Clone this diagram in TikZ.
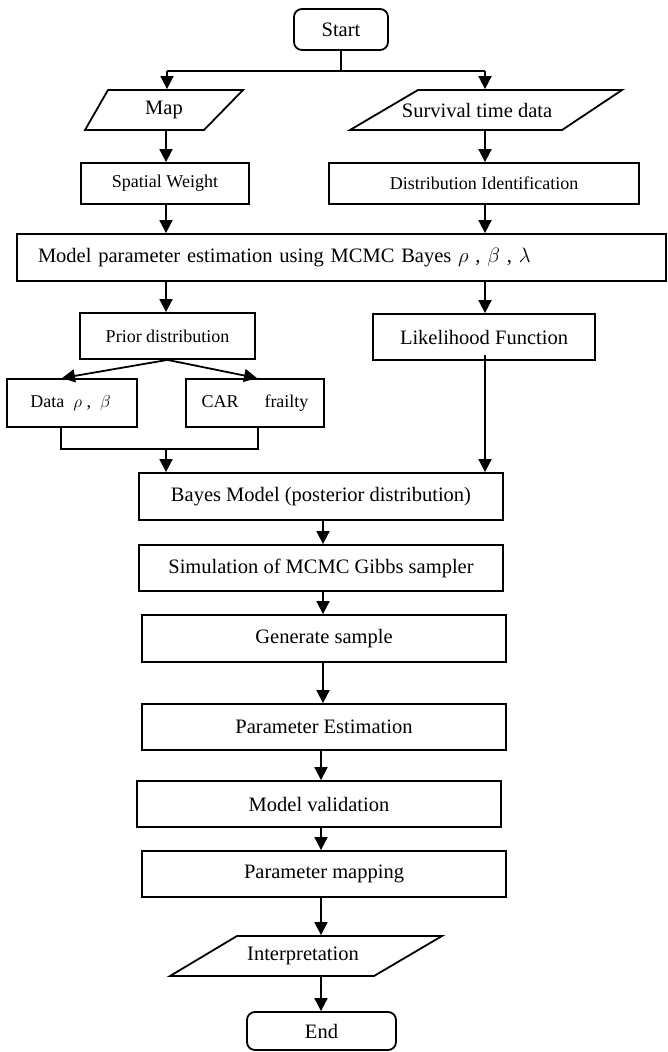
\documentclass[tikz,border=0pt]{standalone}
\usepackage{fontspec}
\setmainfont{Liberation Serif}
\usetikzlibrary{arrows.meta,calc}
\begin{document}
\begin{tikzpicture}[x=1pt,y=-1pt,
  line width=1.8pt,
  big/.style={font=\fontsize{20.5}{24}\selectfont},
  small/.style={font=\fontsize{18}{22}\selectfont},
  box/.style={draw, rectangle, inner sep=0pt, big},
  sbox/.style={draw, rectangle, inner sep=0pt, small},
  term/.style={draw, rectangle, rounded corners=8pt, inner sep=0pt, big},
  arr/.style={-{Triangle[length=13pt,width=13pt]}},
  ln/.style={-}]
\useasboundingbox (0,0) rectangle (667,1052);

% Start
\node[term, minimum width=94pt, minimum height=41pt] (start) at (341,29.5) {Start};

% Map parallelogram
\draw (85,130) -- (108,90) -- (243,90) -- (204,130) -- cycle;
\node[big, inner sep=0pt, minimum width=158pt, minimum height=40pt] (map) at (164,110) {Map};

% Survival parallelogram
\draw (350,130) -- (418,90) -- (622,90) -- (562,130) -- cycle;
\node[big, inner sep=0pt, minimum width=272pt, minimum height=40pt] (surv) at (486,110) {\hspace*{-18pt}Survival time data};

\node[sbox, minimum width=168pt, minimum height=41pt] (sw) at (165,183.5) {Spatial Weight};
\node[sbox, minimum width=310pt, minimum height=41pt] (di) at (484,183.5) {Distribution Identification};

\node[box, minimum width=649pt, minimum height=47pt, inner xsep=21pt, text width=607pt, align=left] (model) at (341.5,257.5)
  {Model parameter estimation using\ MCMC Bayes\ $\rho$\ ,\ $\beta$\ ,\ $\lambda$};

\node[sbox, minimum width=175pt, minimum height=46pt] (prior) at (167.5,336) {Prior distribution};
\node[box, minimum width=222pt, minimum height=46pt] (lik) at (484,337) {Likelihood Function};

\node[sbox, minimum width=130pt, minimum height=48pt] (data) at (72,403) {Data\ \ $\rho$\ ,\ \ $\beta$\,};
\node[sbox, minimum width=138pt, minimum height=48pt] (car) at (255,403) {CAR\hspace{26pt}frailty};

\node[box, minimum width=364pt, minimum height=47pt] (bayes) at (321,496.5) {Bayes Model (posterior distribution)};
\node[box, minimum width=364pt, minimum height=46pt] (sim) at (321,568) {Simulation of MCMC Gibbs sampler};
\node[box, minimum width=364pt, minimum height=47pt] (gen) at (324,638.5) {Generate sample};
\node[box, minimum width=364pt, minimum height=46pt] (pest) at (324,727) {Parameter Estimation};
\node[box, minimum width=364pt, minimum height=46pt] (mval) at (319,804) {Model validation};
\node[box, minimum width=364pt, minimum height=46pt] (pmap) at (324,874) {Parameter mapping};

% Interpretation parallelogram
\draw (170,976) -- (237,936) -- (442,936) -- (374,976) -- cycle;
\node[big, inner sep=0pt, minimum width=272pt, minimum height=40pt] (interp) at (306,956) {\hspace*{-6pt}Interpretation};

\node[term, minimum width=149pt, minimum height=38pt] (end) at (321.5,1031) {End};

% connectors
\coordinate (split) at (341,71);
\coordinate (sl) at (167,71);
\coordinate (sr) at (485,71);
\draw[ln] (start.south) -- (split);
\draw[ln] (sl) -- (sr);
\draw[arr] (sl) -- (sl |- map.north);
\draw[arr] (sr) -- (sr |- surv.north);

\draw[arr] ([xshift=2pt]map.south) -- ([xshift=2pt]map.south |- sw.north);
\draw[arr] ([xshift=-1pt]surv.south) -- ([xshift=-1pt]surv.south |- di.north);
\draw[arr] ([xshift=1pt]sw.south) -- ([xshift=1pt]sw.south |- model.north);
\draw[arr] ([xshift=1pt]di.south) -- ([xshift=1pt]di.south |- model.north);
\coordinate (ml) at (166,281);
\coordinate (mr) at (485,281);
\draw[arr] (ml) -- (ml |- prior.north);
\draw[arr] (mr) -- (mr |- lik.north);

\draw[arr] (prior.south) -- ([xshift=-10pt]data.north);
\draw[arr] (prior.south) -- ([xshift=2pt]car.north);

\coordinate (jl) at (61,449);
\coordinate (jr) at (258,449);
\coordinate (jm) at (166,449);
\draw[ln] ([xshift=-11pt]data.south) -- (jl) -- (jr) -- ([xshift=3pt]car.south);
\draw[arr] (jm) -- (jm |- bayes.north);

\draw[arr] ([yshift=6pt,xshift=1pt]lik.south) -- ([xshift=1pt]lik.south |- bayes.north);

\draw[arr] ([xshift=2pt]bayes.south) -- ([xshift=2pt]bayes.south |- sim.north);
\draw[arr] ([xshift=2pt]sim.south) -- ([xshift=2pt]sim.south |- gen.north);
\draw[arr] ([xshift=-1pt]gen.south) -- ([xshift=-1pt]gen.south |- pest.north);
\draw[arr] ([xshift=-3pt]pest.south) -- ([xshift=-3pt]pest.south |- mval.north);
\draw[arr] ([xshift=2pt]mval.south) -- ([xshift=2pt]mval.south |- pmap.north);
\draw[arr] ([xshift=-3pt]pmap.south) -- ([xshift=-3pt]pmap.south |- interp.north);
\coordinate (ib) at (321,976);
\draw[arr] (ib) -- (ib |- end.north);
\end{tikzpicture}
\end{document}
